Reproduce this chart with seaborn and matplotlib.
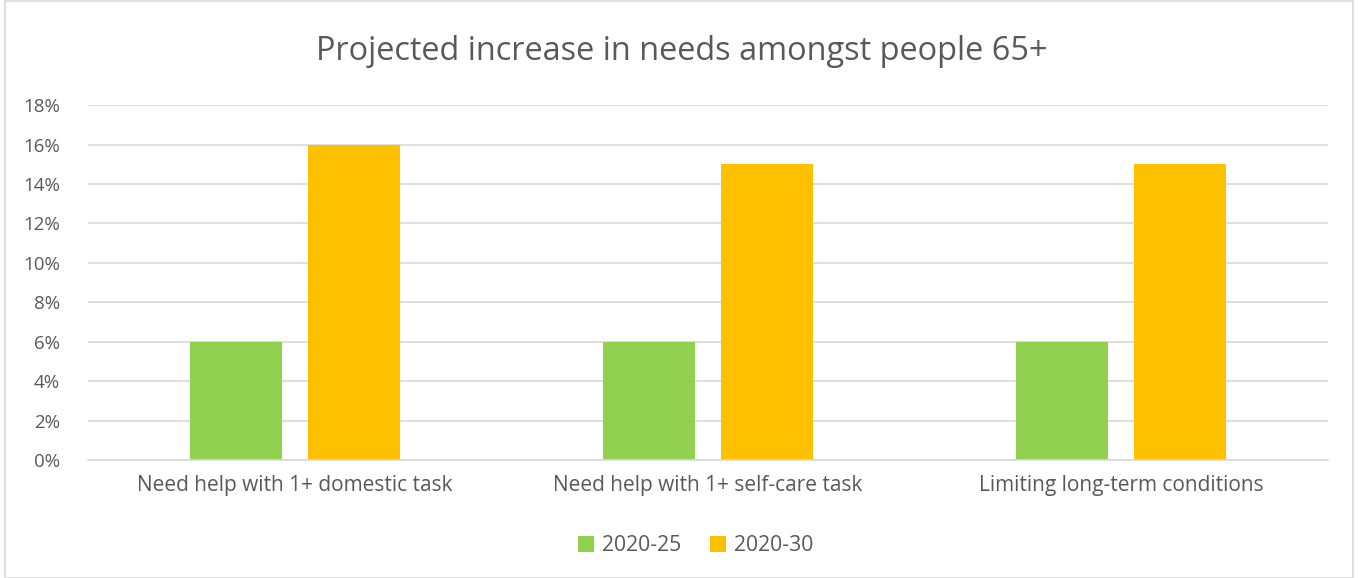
import matplotlib
matplotlib.use("Agg")
import matplotlib.pyplot as plt
import seaborn as sns
import pandas as pd
from matplotlib.patches import Rectangle
from matplotlib.ticker import FuncFormatter

categories = ["Need help with 1+ domestic task", "Need help with 1+ self-care task", "Limiting long-term conditions"]
series_names = ["2020-25", "2020-30"]
values_2020_25 = [6, 6, 6]
values_2020_30 = [16, 15, 15]
yticks = [0, 2, 4, 6, 8, 10, 12, 14, 16, 18]
title = "Projected increase in needs amongst people 65+"

df = pd.DataFrame({
    "category": categories * 2,
    "period": [series_names[0]] * 3 + [series_names[1]] * 3,
    "value": values_2020_25 + values_2020_30,
})

sns.set_theme(style="white")
plt.rcParams['font.family'] = ['Open Sans', 'DejaVu Sans']
text_color = "#595959"
grid_color = "#D9D9D9"

fig = plt.figure(figsize=(13.58, 5.78), dpi=100)
ax = fig.add_axes([0.0648, 0.204, 0.9132, 0.614])

sns.barplot(data=df, x="category", y="value", hue="period", order=categories,
            hue_order=series_names, palette=["#92D050", "#FFC000"], saturation=1,
            width=0.571, gap=0.22, ax=ax, legend=True, errorbar=None, linewidth=0)

ax.set_ylim(0, 18)
ax.set_xlim(-0.5, 2.5)
ax.set_yticks(yticks)
ax.yaxis.set_major_formatter(FuncFormatter(lambda v, p: f"{int(v)}%"))
ax.grid(axis="y", color=grid_color, linewidth=1.2)
ax.set_axisbelow(True)
for s in ["top", "right", "left"]:
    ax.spines[s].set_visible(False)
ax.spines["bottom"].set_color(grid_color)
ax.spines["bottom"].set_linewidth(1.2)
ax.tick_params(axis="both", length=0, colors=text_color)
ax.tick_params(axis="y", labelsize=13.5, pad=20)
ax.tick_params(axis="x", labelsize=15, pad=11)
ax.set_xlabel("")
ax.set_ylabel("")

fig.suptitle(title, x=0.502, y=0.94, fontsize=23.4, color=text_color)

handles, labels = ax.get_legend_handles_labels()
ax.legend(handles, labels, loc="center", bbox_to_anchor=(0.49, -0.242), ncol=2,
          frameon=False, fontsize=15.2, handlelength=0.75, handleheight=0.75,
          handletextpad=0.35, columnspacing=1.4, labelcolor=text_color)

fig.patches.append(Rectangle((0.004, 0.0), 0.992, 0.998, transform=fig.transFigure,
                             fill=False, edgecolor=grid_color, linewidth=1.2))

fig.savefig("out.png", dpi=100)
